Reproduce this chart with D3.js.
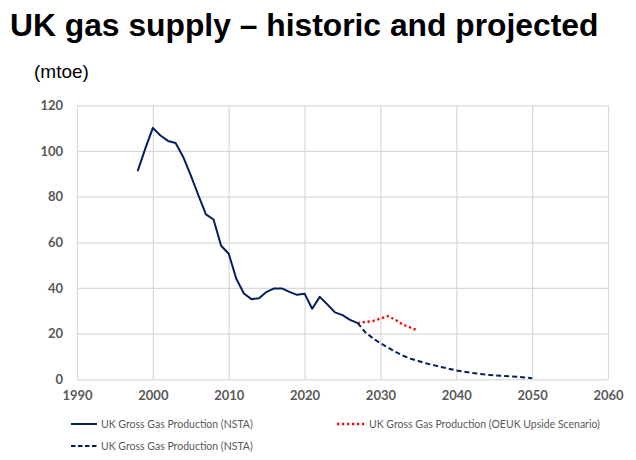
<!DOCTYPE html>
<html><head><meta charset="utf-8">
<script src="https://cdn.jsdelivr.net/npm/d3@7"></script>
<style>
html,body{margin:0;padding:0;background:#fff;}
svg{display:block;}
</style></head>
<body>
<svg id="chart" width="636" height="460"></svg>
<script>
// ---- data ----
const historicYears = [1998,1999,2000,2001,2002,2003,2004,2005,2006,2007,2008,2009,2010,2011,2012,2013,2014,2015,2016,2017,2018,2019,2020,2021,2022,2023,2024,2025,2026,2027];
const historicValues = [91.2,101.0,110.1,106.8,104.4,103.5,97.4,89.3,80.6,72.2,70.0,58.5,55.0,44.0,37.6,35.1,35.5,38.3,39.8,39.8,38.3,37.0,37.5,30.9,36.1,32.8,29.3,28.1,26.0,24.6];
const projectedYears = [2027,2028,2029,2030,2031,2032,2033,2034,2035,2036,2037,2038,2039,2040,2041,2042,2043,2044,2045,2046,2047,2048,2049,2050];
const projectedValues = [24.6,20.6,18.0,15.8,13.9,12.0,10.3,9.0,8.0,7.0,6.2,5.4,4.6,3.9,3.3,2.8,2.4,2.0,1.7,1.5,1.3,1.1,0.8,0.5];
const upsideYears = [2027,2028,2029,2030,2031,2032,2033,2034,2035];
const upsideValues = [24.6,25.1,25.5,26.6,27.7,26.0,23.9,22.6,21.3];
const xTicks = [1990,2000,2010,2020,2030,2040,2050,2060];
const yTicks = [0,20,40,60,80,100,120];
const seriesNames = ["UK Gross Gas Production (NSTA)","UK Gross Gas Production (OEUK Upside Scenario)","UK Gross Gas Production (NSTA)"];
const titleText = "UK gas supply \u2013 historic and projected";
const unitText = "(mtoe)";

// ---- layout ----
const svg = d3.select("#chart");
const pLeft = 77, pRight = 608, pTop = 105.3, pBottom = 379.3;
const x = d3.scaleLinear().domain([1990,2060]).range([pLeft,pRight]);
const y = d3.scaleLinear().domain([0,120]).range([pBottom,pTop]);
const navy = "#002060", red = "#ff0000", grid = "#d9d9d9", labelCol = "#595959";

svg.append("text").attr("x",10).attr("y",36)
  .attr("font-family","'Liberation Sans', Arial, sans-serif").attr("font-weight","bold")
  .attr("font-size",31.8).attr("fill","#000").text(titleText);
svg.append("text").attr("x",34).attr("y",78)
  .attr("font-family","'Liberation Sans', Arial, sans-serif")
  .attr("font-size",19).attr("fill","#000").text(unitText);

// gridlines via axes
const gy = svg.append("g").attr("transform",`translate(${pLeft},0)`)
  .call(d3.axisLeft(y).tickValues(yTicks).tickSize(-(pRight-pLeft)).tickPadding(14));
const gx = svg.append("g").attr("transform",`translate(0,${pBottom})`)
  .call(d3.axisBottom(x).tickValues(xTicks).tickFormat(d3.format("d")).tickSize(-(pBottom-pTop)).tickPadding(14));
[gx,gy].forEach(g=>{
  g.select(".domain").remove();
  g.selectAll(".tick line").attr("stroke",grid).attr("stroke-width",1.2);
  g.selectAll(".tick text").attr("fill",labelCol)
    .attr("font-family","Lato, 'Open Sans', sans-serif").attr("font-weight","bold").attr("font-size",13);
});
gx.selectAll(".tick text").attr("dy","0.5em");

const line = d3.line().x(d=>x(d[0])).y(d=>y(d[1]));
const hist = historicYears.map((yr,i)=>[yr,historicValues[i]]);
const proj = projectedYears.map((yr,i)=>[yr,projectedValues[i]]);
const up = upsideYears.map((yr,i)=>[yr,upsideValues[i]]);

svg.append("path").datum(up).attr("d",line).attr("fill","none")
  .attr("stroke",red).attr("stroke-width",2.4).attr("stroke-dasharray","2.2 2.8");
svg.append("path").datum(proj).attr("d",line).attr("fill","none")
  .attr("stroke",navy).attr("stroke-width",2).attr("stroke-dasharray","5 3");
svg.append("path").datum(hist).attr("d",line).attr("fill","none")
  .attr("stroke",navy).attr("stroke-width",2).attr("stroke-linejoin","round");

// legend
const legend = [
  {x:71, y:424, name:seriesNames[0], color:navy, dash:null},
  {x:337, y:424, name:seriesNames[1], color:red, dash:"2.2 2.8"},
  {x:71, y:446, name:seriesNames[2], color:navy, dash:"4.5 2.5"}
];
const lg = svg.append("g").selectAll("g").data(legend).join("g")
  .attr("transform",d=>`translate(${d.x},${d.y})`);
lg.append("line").attr("x1",0).attr("x2",d=>d.color===red?28:26).attr("y1",0).attr("y2",0)
  .attr("stroke",d=>d.color).attr("stroke-width",d=>d.color===red?2.4:2)
  .attr("stroke-dasharray",d=>d.dash);
lg.append("text").attr("x",d=>d.color===red?32:30).attr("y",0).attr("dy","0.35em")
  .attr("font-family","Lato, 'Open Sans', sans-serif").attr("font-size",10.5)
  .attr("fill",labelCol).text(d=>d.name);
</script>
</body></html>
